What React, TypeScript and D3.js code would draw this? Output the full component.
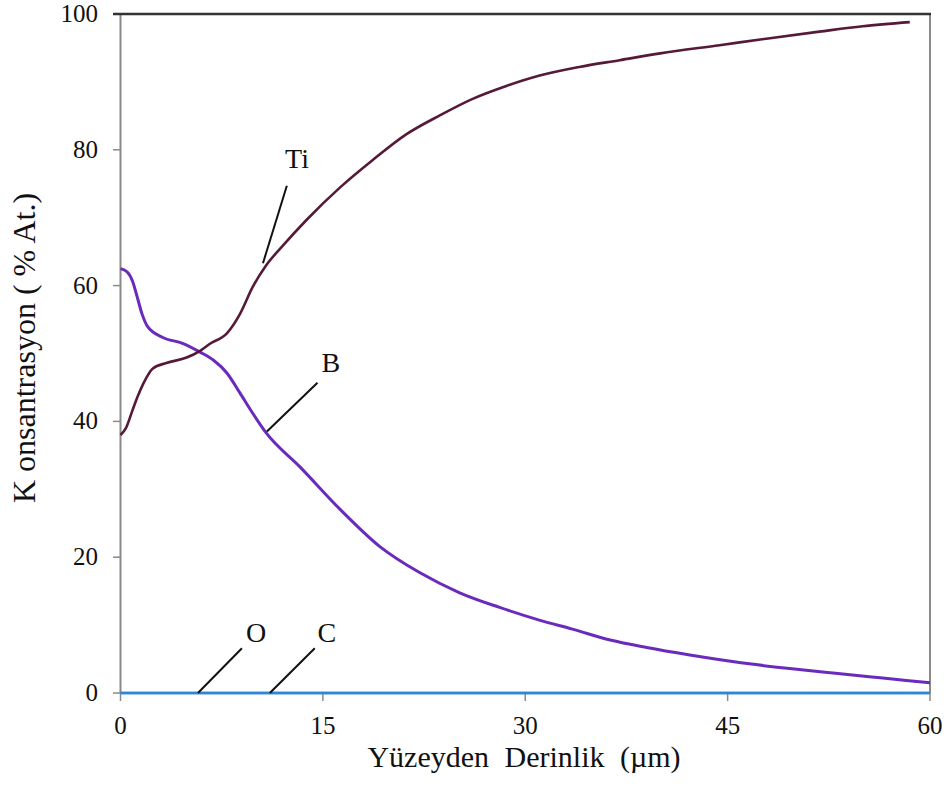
import * as d3 from "d3";

const tiDepth = [0, 0.4, 0.9, 1.3, 1.7, 2.4, 3.4, 4.9, 5.9, 6.6, 7.9, 8.85, 9.8, 10.8, 12, 13.8, 16.3, 18.7, 21.2, 23.7, 26.1, 28.6, 31, 34, 37, 40, 44.4, 48, 51.8, 55, 58.5];
const tiValues = [38, 39, 41.7, 43.8, 45.6, 47.8, 48.6, 49.4, 50.4, 51.4, 53, 55.8, 59.8, 63.0, 65.8, 69.7, 74.5, 78.5, 82.3, 85.1, 87.5, 89.4, 90.9, 92.2, 93.2, 94.2, 95.4, 96.4, 97.4, 98.2, 98.8];

const bDepth = [0, 0.5, 0.9, 1.2, 1.6, 2.0, 3.1, 4.6, 5.9, 6.9, 7.9, 8.85, 9.8, 10.8, 13.3, 16.3, 19.2, 22.2, 25.1, 28.1, 31.1, 33.5, 36.3, 39, 42.2, 46.6, 49.6, 53, 56.5, 60];
const bValues = [62.5, 62, 60.6, 58.6, 55.8, 54.0, 52.4, 51.5, 50.2, 49, 47.1, 44.2, 41.2, 38.3, 33.3, 27.0, 21.6, 17.7, 14.8, 12.6, 10.7, 9.4, 7.8, 6.7, 5.6, 4.3, 3.6, 2.9, 2.2, 1.5];

const zeroDepth = [0, 60];
const oValues = [0, 0];
const cValues = [0, 0];

const xTicks = [0, 15, 30, 45, 60];
const yTicks = [0, 20, 40, 60, 80, 100];

// label text, label position, leader line start/end (data units)
const labels = [
  { text: "Ti", at: [12.2, 77.3], from: [12.33, 74.7], to: [10.56, 63.3] },
  { text: "B", at: [14.9, 47.3], from: [14.6, 45.7], to: [10.85, 38.5] },
  { text: "O", at: [9.3, 7.5], from: [9.0, 6.6], to: [5.74, 0] },
  { text: "C", at: [14.6, 7.5], from: [14.4, 6.6], to: [11.07, 0] },
];

const W = 950;
const H = 791;
const left = 120.5;
const right = 930;
const top = 14;
const bottom = 693;
const serif = { fontFamily: "'Liberation Serif', 'Times New Roman', Times, serif" };

export default function App() {
  const x = d3.scaleLinear().domain([0, 60]).range([left, right]);
  const y = d3.scaleLinear().domain([0, 100]).range([bottom, top]);

  const line = d3
    .line<[number, number]>()
    .x((d) => x(d[0]))
    .y((d) => y(d[1]))
    .curve(d3.curveMonotoneX);

  const ti = line(tiDepth.map((d, i) => [d, tiValues[i]]));
  const b = line(bDepth.map((d, i) => [d, bValues[i]]));
  const o = line(zeroDepth.map((d, i) => [d, oValues[i]]));
  const c = line(zeroDepth.map((d, i) => [d, cValues[i]]));

  return (
    <svg
      width={W}
      height={H}
      style={{ position: "absolute", left: 0, top: 0, background: "#fff" }}
    >
      {/* frame */}
      <line x1={left} x2={left} y1={top} y2={bottom} stroke="#8a8a8a" strokeWidth={2} />
      <line x1={right} x2={right} y1={top} y2={bottom} stroke="#8a8a8a" strokeWidth={2} />
      <line x1={113} x2={right + 1} y1={top} y2={top} stroke="#333" strokeWidth={2.5} />
      <line x1={left} x2={right} y1={bottom} y2={bottom} stroke="#8a8a8a" strokeWidth={1.5} />

      {yTicks.map((t) => (
        <g key={"y" + t}>
          {t < 100 && (
            <line x1={113} x2={left} y1={y(t)} y2={y(t)} stroke="#8a8a8a" strokeWidth={1.5} />
          )}
          <text x={98} y={y(t) + 8} textAnchor="end" fontSize={25} fill="#111" style={serif}>
            {t}
          </text>
        </g>
      ))}
      {xTicks.map((t) => (
        <g key={"x" + t}>
          <line x1={x(t)} x2={x(t)} y1={bottom} y2={bottom + 8} stroke="#8a8a8a" strokeWidth={1.5} />
          <text x={x(t)} y={734} textAnchor="middle" fontSize={25} fill="#111" style={serif}>
            {t}
          </text>
        </g>
      ))}

      <text x={524} y={767} textAnchor="middle" fontSize={30} fill="#111" wordSpacing={8} style={serif}>
        Yüzeyden Derinlik (µm)
      </text>
      <text
        transform="translate(35,348) rotate(-90)"
        textAnchor="middle"
        fontSize={32}
        fill="#111"
        style={serif}
      >
        K onsantrasyon ( % At.)
      </text>

      {/* series */}
      <path d={o ?? ""} fill="none" stroke="#2f86d6" strokeWidth={2.5} />
      <path d={c ?? ""} fill="none" stroke="#2f86d6" strokeWidth={2.5} />
      <path d={b ?? ""} fill="none" stroke="#6a2bbd" strokeWidth={3} />
      <path d={ti ?? ""} fill="none" stroke="#561a38" strokeWidth={2.6} />

      {labels.map((l) => (
        <g key={l.text}>
          <line
            x1={x(l.from[0])}
            y1={y(l.from[1])}
            x2={x(l.to[0])}
            y2={y(l.to[1])}
            stroke="#111"
            strokeWidth={2}
          />
          <text x={x(l.at[0])} y={y(l.at[1])} fontSize={28} fill="#111" style={serif}>
            {l.text}
          </text>
        </g>
      ))}
    </svg>
  );
}
